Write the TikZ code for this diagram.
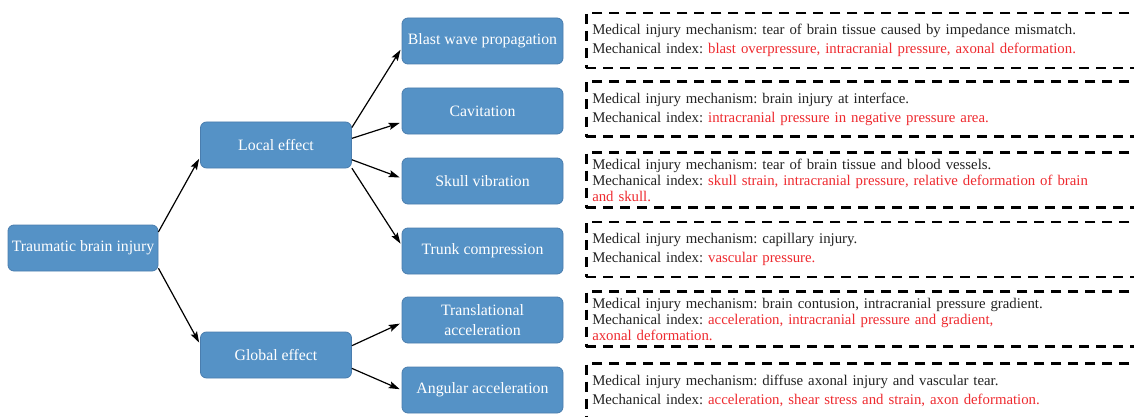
\documentclass[tikz,border=0pt]{standalone}
\usepackage{fontspec}
\setmainfont{Liberation Serif}
\usetikzlibrary{arrows.meta, positioning, calc}
\definecolor{tbblue}{HTML}{5592C6}
\definecolor{tbedge}{HTML}{4A7DAE}
\definecolor{idxred}{HTML}{EE2A2F}
\definecolor{txtdark}{HTML}{222222}
\frenchspacing

\begin{document}
\begin{tikzpicture}[
  x=1pt, y=-1pt,
  >={Stealth[length=11pt, width=7pt, inset=2pt]},
  box/.style={draw=tbedge, line width=0.8pt, fill=tbblue, rounded corners=6pt,
    minimum height=46pt, text=white, align=center, inner sep=2pt,
    font=\fontsize{15.8}{20}\selectfont},
  info/.style={draw=black, line width=2.5pt, dash pattern=on 10pt off 7pt,
    anchor=west, minimum height=55pt, text width=555pt, align=left,
    inner xsep=6pt, inner ysep=3pt, text=txtdark,
    font=\fontsize{14.8}{19}\selectfont},
  arr/.style={->, line width=1.2pt, black, shorten >=2pt},
]

% Canvas
\useasboundingbox (0,0) rectangle (1134,417);

% === Root ===
\node[box, minimum width=150pt] (tbi) at (83,248) {Traumatic brain injury};

% === Effects ===
\node[box, minimum width=151pt] (localeff) at (276,145) {Local effect};
\node[box, minimum width=151pt] (globaleff) at (276,355) {Global effect};

% Arrows: root -> effects
\draw[arr] (tbi.12) -- (localeff.189);
\draw[arr] (tbi.-15) -- (globaleff.172);

% === Mechanisms ===
\node[box, minimum width=161pt] (blast) at (482.5,41) {Blast wave propagation};
\node[box, minimum width=161pt] (cavit) at (482.5,111) {Cavitation};
\node[box, minimum width=161pt] (skull) at (482.5,181) {Skull vibration};
\node[box, minimum width=161pt] (trunk) at (482.5,251) {Trunk compression};
\node[box, minimum width=161pt] (transl) at (482.5,320)
  {Translational\\[0pt] acceleration};
\node[box, minimum width=161pt] (angular) at (482.5,390) {Angular acceleration};

% Arrows: local effect -> mechanisms
\draw[arr] (localeff.13) -- (blast.185);
\draw[arr] (localeff.5) -- (cavit.188);
\draw[arr] (localeff.-11) -- (skull.178);
\draw[arr] (localeff.-17) -- (trunk.176);

% Arrows: global effect -> mechanisms
\draw[arr] (globaleff.7) -- (transl.182);
\draw[arr] (globaleff.-10) -- (angular.west);

% === Injury notes ===
\node[info] (nblast) at (585,40.5)
  {Medical injury mechanism: tear of brain tissue caused by impedance mismatch.\\
   Mechanical index: \textcolor{idxred}{blast overpressure, intracranial pressure, axonal deformation.}};
\node[info] (ncavit) at (585,109)
  {Medical injury mechanism: brain injury at interface.\\
   Mechanical index: \textcolor{idxred}{intracranial pressure in negative pressure area.}};
\node[info, font=\fontsize{14.8}{16}\selectfont] (nskull) at (585,180)
  {Medical injury mechanism: tear of brain tissue and blood vessels.\\
   Mechanical index: \textcolor{idxred}{skull strain, intracranial pressure, relative deformation of brain}\\
   \textcolor{idxred}{and skull.}};
\node[info] (ntrunk) at (585,249.5)
  {Medical injury mechanism: capillary injury.\\
   Mechanical index: \textcolor{idxred}{vascular pressure.}};
\node[info, font=\fontsize{14.8}{16}\selectfont] (ntransl) at (585,319)
  {Medical injury mechanism: brain contusion, intracranial pressure gradient.\\
   Mechanical index: \textcolor{idxred}{acceleration, intracranial pressure and gradient,}\\
   \textcolor{idxred}{axonal deformation.}};
\node[info] (nangular) at (585,391)
  {Medical injury mechanism: diffuse axonal injury and vascular tear.\\
   Mechanical index: \textcolor{idxred}{acceleration, shear stress and strain, axon deformation.}};

\end{tikzpicture}
\end{document}
